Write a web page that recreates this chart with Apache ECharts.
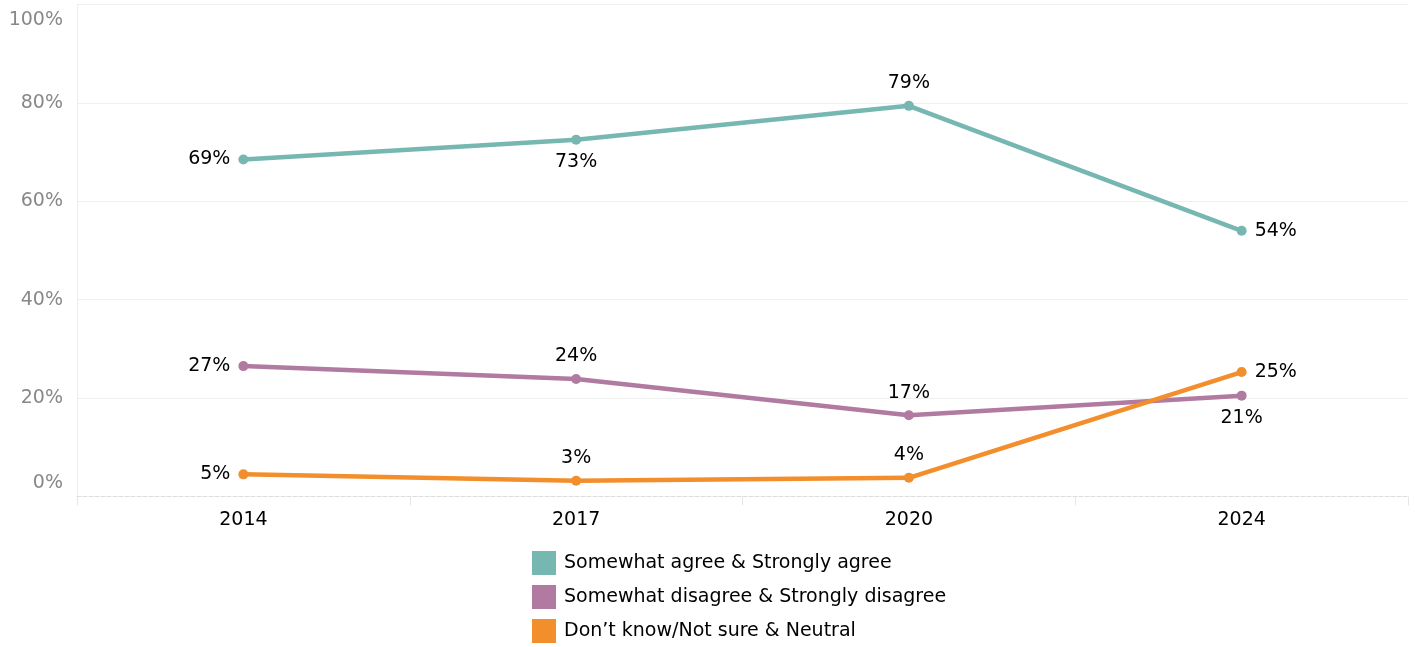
<!DOCTYPE html>
<html><head><meta charset="utf-8">
<script src="https://cdn.jsdelivr.net/npm/echarts@6/dist/echarts.min.js"></script>
<style>html,body{margin:0;padding:0;background:#fff}#c{width:1415px;height:647px}</style>
</head><body><div id="c"></div>
<script>
const years = ['2014','2017','2020','2024'];
const agree = [68.5, 72.5, 79.4, 54.0];
const disagree = [26.5, 23.9, 16.5, 20.5];
const neutral = [4.5, 3.2, 3.8, 25.3];
const yTicks = [0, 20, 40, 60, 80, 100];
const seriesNames = ['Somewhat agree & Strongly agree','Somewhat disagree & Strongly disagree','Don\u2019t know/Not sure & Neutral'];
const agreePos = ['left','bottom','top','right'];
const disagreePos = ['left','top','top','bottom'];
const neutralPos = ['left','top','top','right'];

const FONT = '"DejaVu Sans", "Noto Sans", sans-serif';
const FS = 19;
function mk(name, vals, pos, color){
  return {
    name, type:'line', data: vals.map((v,i)=>({value:v, label:{position:pos[i]}})),
    symbol:'circle', symbolSize:10,
    lineStyle:{width:4.5,color}, itemStyle:{color},
    label:{show:true, formatter:p=>Math.round(p.value)+'%', color:'#000', fontSize:FS, fontFamily:FONT, distance:8},
    emphasis:{disabled:true}, z:3
  };
}
const chart = echarts.init(document.getElementById('c'), null, {renderer:'canvas'});
chart.setOption({
  animation:false,
  color:['#76b7b2','#b07aa1','#f28e2b'],
  grid:{left:77, right:7, top:4.5, bottom:150.5, containLabel:false},
  legend:{orient:'vertical', left:532, top:551, padding:0, itemWidth:24, itemHeight:24, itemGap:10, icon:'rect',
    textStyle:{fontSize:FS, fontFamily:FONT, color:'#000', padding:[0,0,0,3]}, data:seriesNames},
  xAxis:{type:'category', data:years, boundaryGap:true,
    axisLine:{show:true, lineStyle:{color:'#dcdcdc', type:'dashed', width:1}},
    axisTick:{show:true, length:9, lineStyle:{color:'#e6e6e6'}},
    axisLabel:{color:'#000', fontSize:FS, fontFamily:FONT, margin:14},
    splitLine:{show:false}},
  yAxis:{type:'value', min:0, max:100, interval:20,
    axisLine:{show:true, lineStyle:{color:'#eeeeee'}},
    axisTick:{show:false},
    axisLabel:{color:'#888', fontSize:FS, fontFamily:FONT, margin:14,
      formatter:v=> v===100 ? '{t|'+v+'%}' : (v===0 ? '{b|'+v+'%}' : v+'%'),
      rich:{t:{padding:[31,0,0,0], fontSize:FS, color:'#888', fontFamily:FONT},
            b:{padding:[0,0,27,0], fontSize:FS, color:'#888', fontFamily:FONT}}},
    splitLine:{show:true, lineStyle:{color:['transparent','#efefef','#efefef','#efefef','#efefef','#efefef'], width:1}}},
  series:[
    mk(seriesNames[0], agree, agreePos, '#76b7b2'),
    mk(seriesNames[1], disagree, disagreePos, '#b07aa1'),
    mk(seriesNames[2], neutral, neutralPos, '#f28e2b')
  ]
});
</script></body></html>
